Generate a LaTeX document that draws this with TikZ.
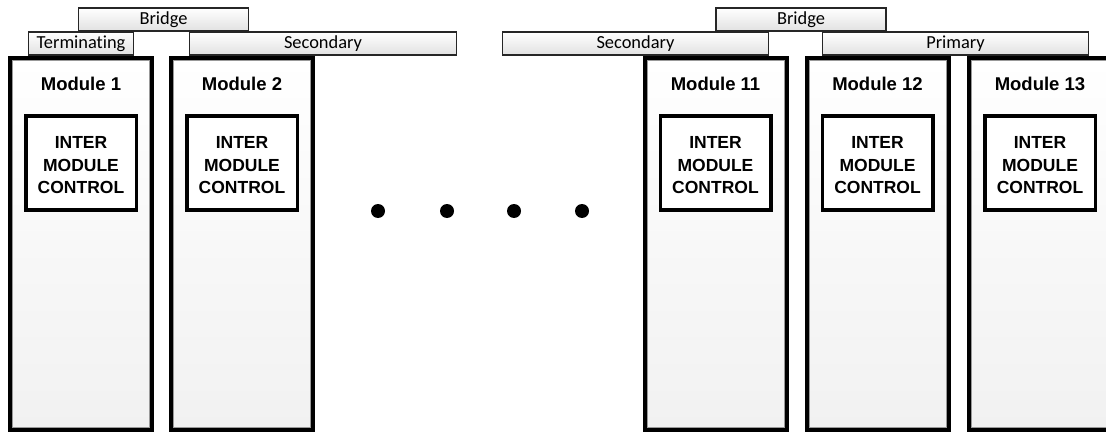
\documentclass[tikz,border=0pt]{standalone}
\usepackage{fontspec}
\setmainfont{Liberation Sans}
\newfontfamily\labelfont[Ligatures={NoCommon,NoRare,NoContextual}]{Carlito}
\usetikzlibrary{calc}

\definecolor{modbottom}{RGB}{241,241,241}
\definecolor{tagbottom}{RGB}{225,225,225}

\tikzset{
  module/.style={draw=black, line width=4pt, top color=white, bottom color=modbottom,
    minimum width=142pt, minimum height=372pt, inner sep=0pt, outer sep=0pt},
  control/.style={draw=black, line width=3.5pt, fill=white,
    minimum width=110.5pt, minimum height=93.5pt, inner sep=0pt, outer sep=0pt},
  controltext/.style={align=center, inner sep=0pt,
    font=\fontsize{17.5}{22.5}\selectfont\bfseries},
  modtitle/.style={font=\fontsize{18.5}{20}\selectfont\bfseries, inner sep=0pt},
  tag/.style={draw=black!85, line width=1.1pt, top color=white, bottom color=tagbottom,
    minimum height=23pt, inner sep=0pt, outer sep=0pt,
    font=\labelfont\fontsize{18.4}{20}\selectfont},
  rim/.style={draw=black!40, line width=0.8pt},
  ellipsisdot/.style={circle, fill=black, minimum size=14pt, inner sep=0pt}
}

\begin{document}
\begin{tikzpicture}[x=1pt, y=-1pt]
\useasboundingbox (0,0) rectangle (1106,433);

% bus tags above the modules
\node[tag, minimum width=170pt] (bridgeL) at (163.5,19.5) {Bridge};
\node[tag, minimum width=170pt] (bridgeR) at (801,19.5) {Bridge};
\node[tag, minimum width=105pt] (term) at (81,43.5) {Terminating};
\node[tag, minimum width=267pt] (secL) at (323,43.5) {Secondary};
\node[tag, minimum width=266pt] (secR) at (635.5,43.5) {Secondary};
\node[tag, minimum width=266pt] (prim) at (955.5,43.5) {Primary};

% modules with their inter-module control blocks
\foreach \name/\cx/\title in {m1/81/Module 1, m2/242/Module 2, m11/715.5/Module 11,
                              m12/877.5/Module 12, m13/1040/Module 13}{
  \node[module] (\name) at (\cx,244) {};
  \draw[rim] ([shift={(2.4pt,2.4pt)}]\name.south west) rectangle ([shift={(-2.4pt,-2.4pt)}]\name.north east);
  \node[modtitle] (\name-title) at (\cx,84) {\title};
  \node[control] (\name-ctl) at (\cx,163) {};
  \node[controltext] (\name-ctltext) at (\cx,165.5) {INTER\\MODULE\\CONTROL};
}

% ellipsis between module 2 and module 11
\node[ellipsisdot] (d1) at (378,211) {};
\node[ellipsisdot] (d2) at (447,211) {};
\node[ellipsisdot] (d3) at (514,211) {};
\node[ellipsisdot] (d4) at (582,211) {};
\end{tikzpicture}
\end{document}
